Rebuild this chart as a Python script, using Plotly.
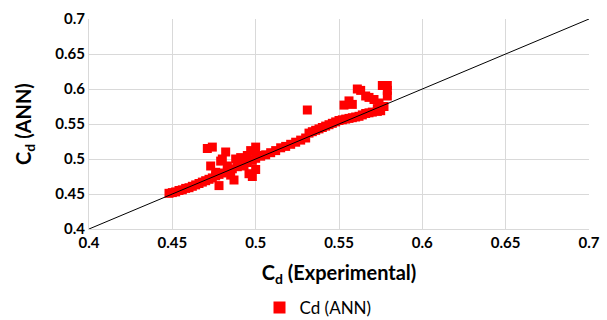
import plotly.graph_objects as go

# Experimental Cd values (x) and ANN-predicted Cd (y)
cd_exp = [
    0.448, 0.450, 0.452, 0.454, 0.456, 0.458, 0.460, 0.462, 0.464, 0.466,
    0.468, 0.470, 0.472, 0.474, 0.476, 0.478, 0.480, 0.483, 0.486, 0.489,
    0.492, 0.495, 0.498, 0.500, 0.503, 0.506, 0.509, 0.512, 0.515, 0.518,
    0.521, 0.524, 0.527, 0.530, 0.532, 0.534, 0.536, 0.538, 0.540, 0.542,
    0.544, 0.546, 0.548, 0.550, 0.552, 0.554, 0.556, 0.558, 0.560, 0.562,
    0.564, 0.566, 0.568, 0.570, 0.573, 0.575,
    # scattered cluster around 0.47-0.50
    0.471, 0.474, 0.473, 0.476, 0.478, 0.480, 0.482, 0.483, 0.485, 0.487,
    0.488, 0.490, 0.493, 0.495, 0.497, 0.500, 0.498, 0.500, 0.502, 0.491,
    0.479, 0.496,
    # isolated and upper cluster
    0.531, 0.553, 0.556, 0.558, 0.561, 0.563, 0.566, 0.568, 0.571, 0.574,
    0.576, 0.579, 0.579, 0.579, 0.577, 0.573,
]
cd_ann = [
    0.451, 0.452, 0.453, 0.455, 0.456, 0.458, 0.459, 0.461, 0.463, 0.465,
    0.467, 0.469, 0.471, 0.473, 0.476, 0.478, 0.480, 0.483, 0.486, 0.489,
    0.492, 0.495, 0.498, 0.501, 0.504, 0.506, 0.509, 0.512, 0.516, 0.518,
    0.521, 0.524, 0.527, 0.530, 0.537, 0.539, 0.541, 0.543, 0.545, 0.547,
    0.549, 0.551, 0.553, 0.555, 0.556, 0.557, 0.558, 0.559, 0.560, 0.561,
    0.563, 0.565, 0.566, 0.567, 0.568, 0.569,
    0.515, 0.517, 0.490, 0.481, 0.462, 0.500, 0.510, 0.490, 0.477, 0.470,
    0.500, 0.495, 0.490, 0.505, 0.512, 0.517, 0.475, 0.485, 0.505, 0.502,
    0.497, 0.479,
    0.570, 0.577, 0.583, 0.578, 0.600, 0.598, 0.590, 0.588, 0.585, 0.580,
    0.605, 0.605, 0.598, 0.590, 0.575, 0.572,
]

# Line of perfect agreement
ref_x = [0.4, 0.7]
ref_y = [0.4, 0.7]

tick_vals = [0.4, 0.45, 0.5, 0.55, 0.6, 0.65, 0.7]
tick_text = ["0.4", "0.45", "0.5", "0.55", "0.6", "0.65", "0.7"]

fig = go.Figure()
fig.add_trace(go.Scatter(
    x=cd_exp, y=cd_ann, mode="markers", name="Cd (ANN)",
    marker=dict(symbol="square", size=9, color="#ff0000", line=dict(width=0)),
))
fig.add_trace(go.Scatter(
    x=ref_x, y=ref_y, mode="lines", showlegend=False,
    line=dict(color="black", width=1),
))

font_family = "Lato, Open Sans, sans-serif"
fig.update_layout(
    width=607, height=320,
    margin=dict(l=89, r=18, t=19, b=91, autoexpand=False),
    plot_bgcolor="white", paper_bgcolor="white",
    font=dict(family=font_family, color="#000000", size=13),
    showlegend=True,
    legend=dict(orientation="h", x=0.458, y=-0.376, xanchor="center", yanchor="middle",
                font=dict(size=17, family=font_family), itemsizing="constant"),
    xaxis=dict(
        range=[0.4, 0.7], tickvals=tick_vals, ticktext=tick_text,
        showgrid=True, gridcolor="#d9d9d9", gridwidth=1,
        showline=True, linecolor="#d9d9d9", linewidth=1, mirror=False,
        zeroline=False, ticks="", ticklen=0, automargin=False,
        tickfont=dict(size=15, family=font_family, weight="bold"),
        title=dict(text="<b>C<sub>d</sub> (Experimental)</b>", font=dict(size=20), standoff=15),
    ),
    yaxis=dict(
        range=[0.4, 0.7], tickvals=tick_vals, ticktext=tick_text,
        showgrid=True, gridcolor="#d9d9d9", gridwidth=1,
        showline=True, linecolor="#d9d9d9", linewidth=1,
        zeroline=False, ticks="", ticklen=0, automargin=False,
        tickfont=dict(size=15, family=font_family, weight="bold"),
        title=dict(text="<b>C<sub>d</sub> (ANN)</b>", font=dict(size=20), standoff=18),
    ),
)

fig.write_html("out.html", config={"displayModeBar": False})

# remove the default page margin so the figure sits at the window's corner
with open("out.html", "r", encoding="utf-8") as f:
    html = f.read()
html = html.replace("<head>", "<head><style>html,body{margin:0;padding:0;}</style>", 1)
with open("out.html", "w", encoding="utf-8") as f:
    f.write(html)
